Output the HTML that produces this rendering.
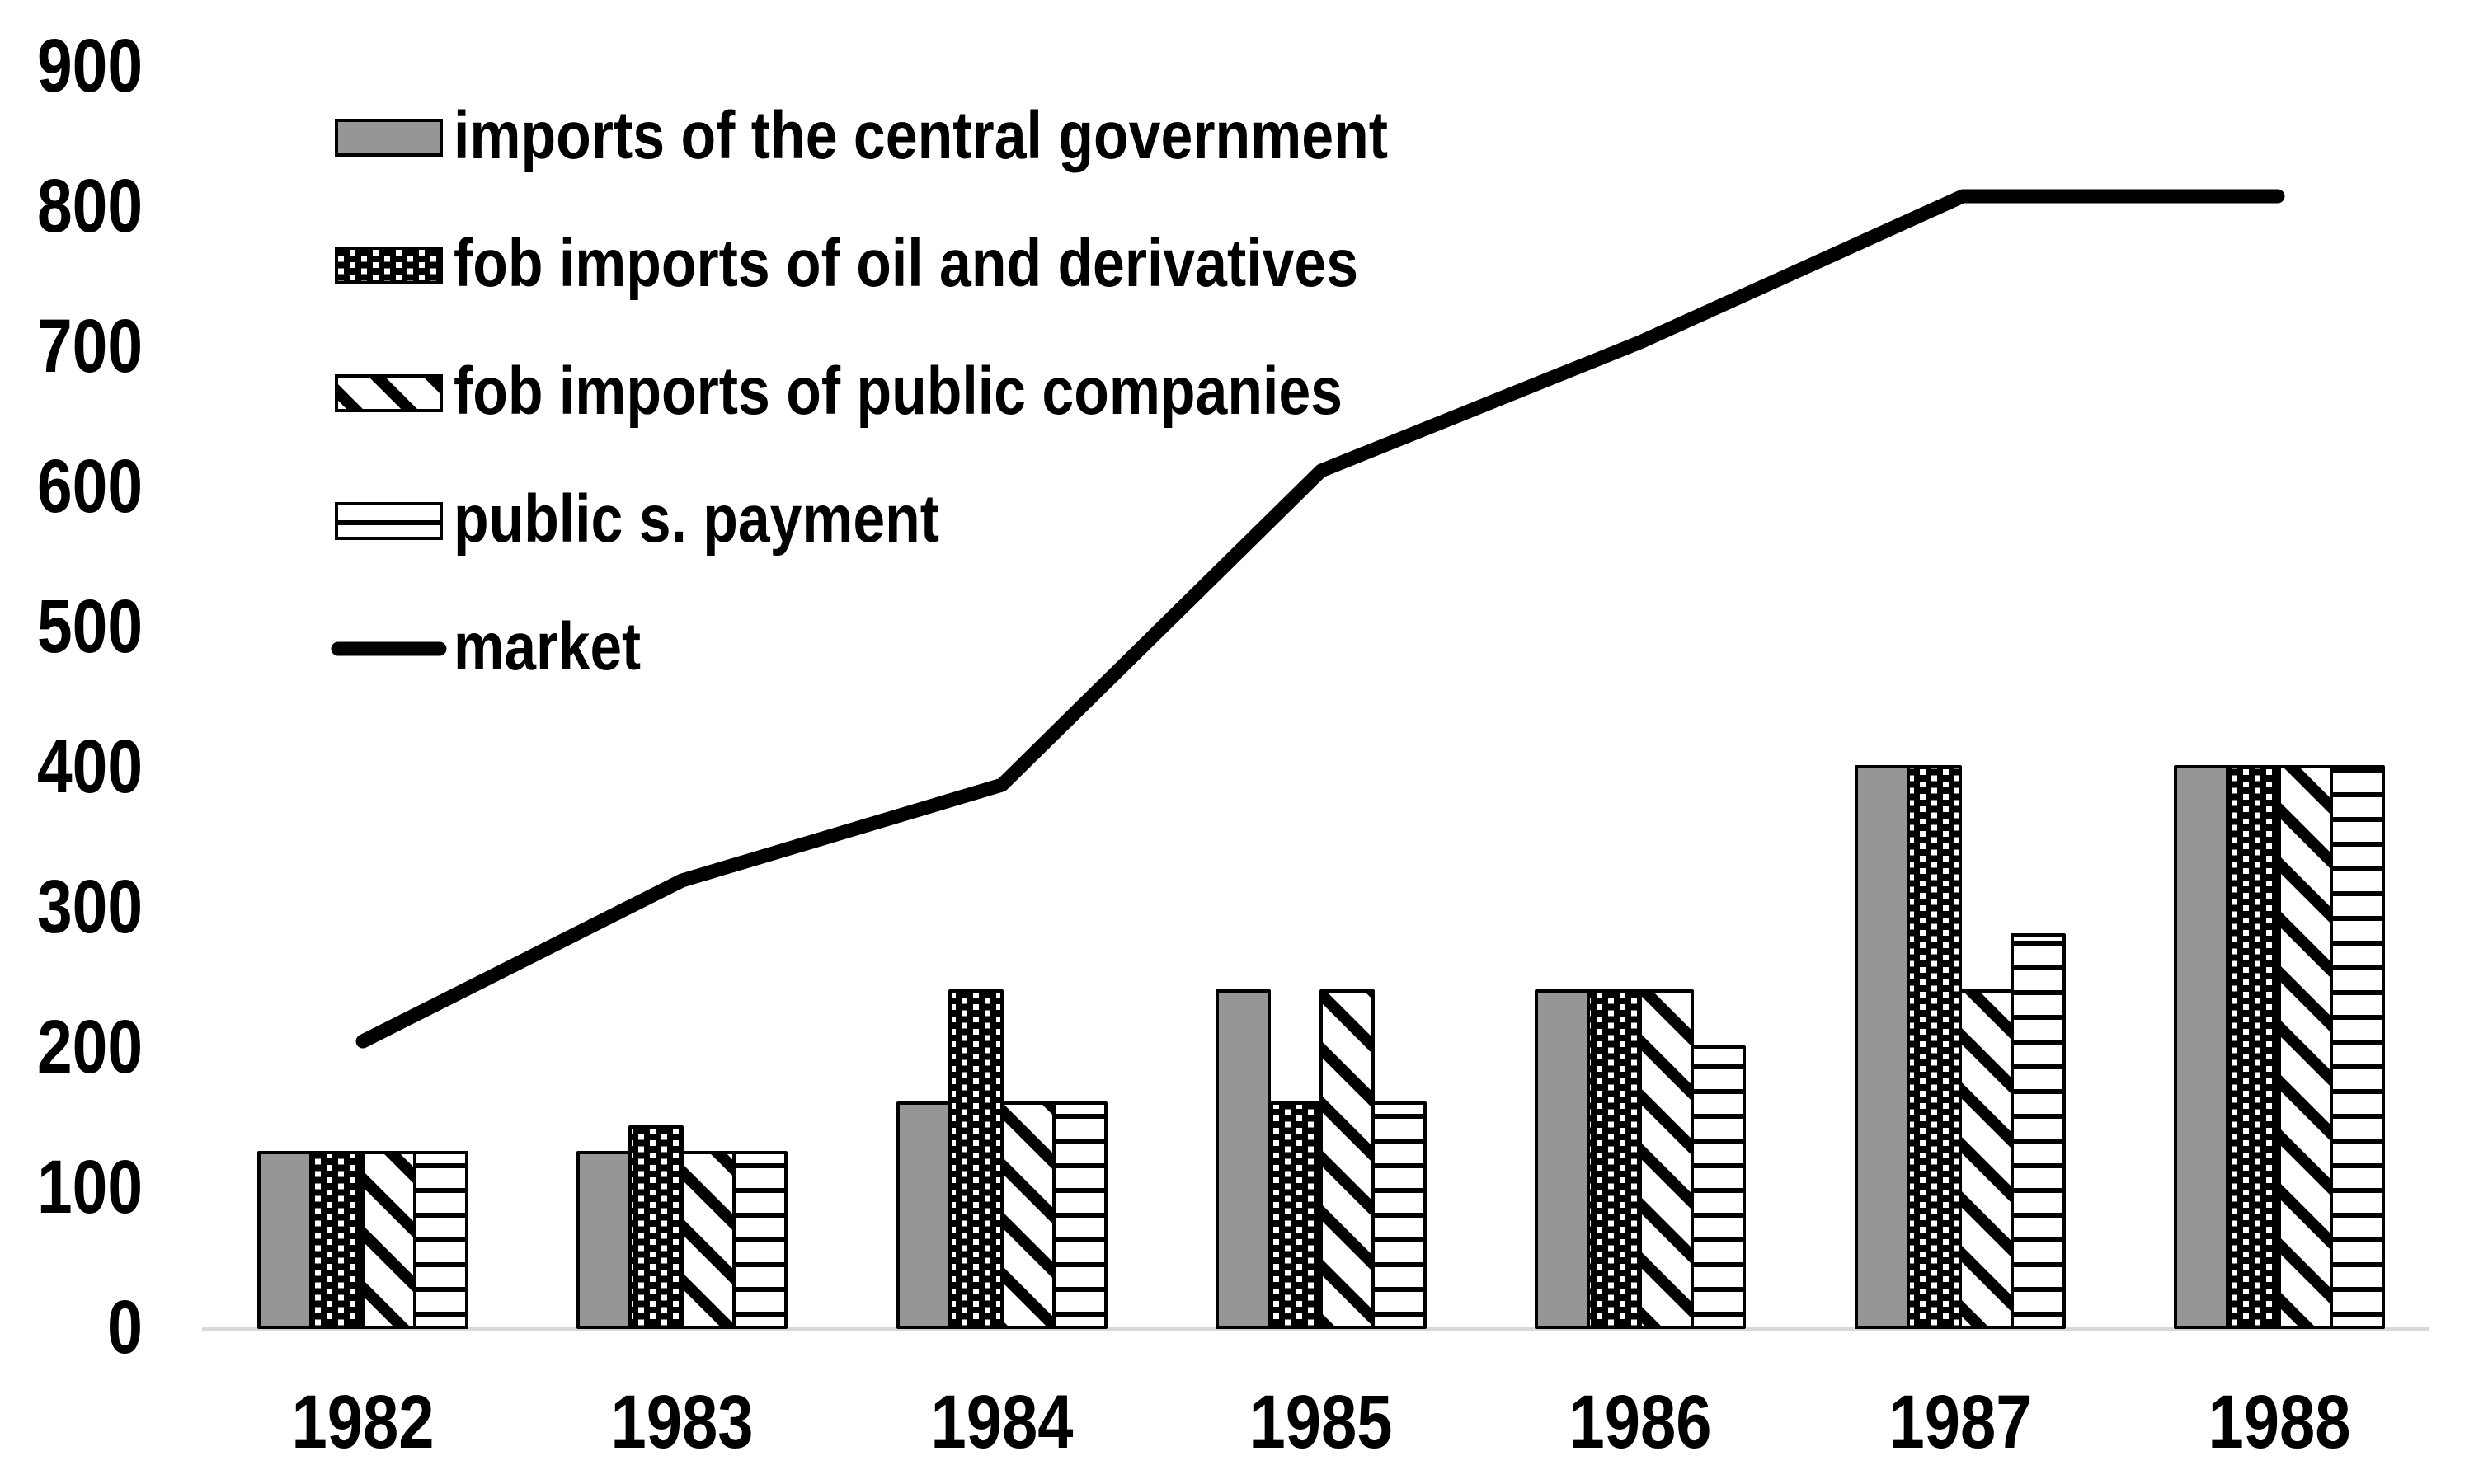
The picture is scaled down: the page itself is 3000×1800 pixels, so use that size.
<!DOCTYPE html>
<html><head><meta charset="utf-8"><style>
html,body{margin:0;padding:0;background:#fff;}
svg{display:block;}
text{font-family:"Liberation Sans",Arial,sans-serif;font-weight:bold;fill:#000;}
</style></head><body>
<svg width="3000" height="1800" viewBox="0 0 3000 1800" xmlns="http://www.w3.org/2000/svg">
<defs>
<pattern id="dots" patternUnits="userSpaceOnUse" width="28" height="15">
<rect width="28" height="15" fill="#000"/>
<rect x="4" y="3" width="7" height="7" fill="#fff"/>
<rect x="18" y="10.5" width="7" height="7" fill="#fff"/>
<rect x="18" y="-4.5" width="7" height="7" fill="#fff"/>
</pattern>
<pattern id="diag" patternUnits="userSpaceOnUse" width="66" height="66">
<rect width="66" height="66" fill="#fff"/>
<path d="M-10,-10 L76,76 M-10,56 L10,76 M56,-10 L76,10" stroke="#000" stroke-width="14"/>
</pattern>
<pattern id="horiz" patternUnits="userSpaceOnUse" width="30" height="30" y="1">
<rect width="30" height="30" fill="#fff"/>
<rect y="0" width="30" height="6" fill="#000"/>
</pattern>
</defs>

<rect x="245" y="1610" width="2700" height="5" fill="#d9d9d9"/>

<g font-size="92" text-anchor="end">
<text x="173" y="111" textLength="128" lengthAdjust="spacingAndGlyphs">900</text>
<text x="173" y="281" textLength="128" lengthAdjust="spacingAndGlyphs">800</text>
<text x="173" y="451" textLength="128" lengthAdjust="spacingAndGlyphs">700</text>
<text x="173" y="621" textLength="128" lengthAdjust="spacingAndGlyphs">600</text>
<text x="173" y="791" textLength="128" lengthAdjust="spacingAndGlyphs">500</text>
<text x="173" y="961" textLength="128" lengthAdjust="spacingAndGlyphs">400</text>
<text x="173" y="1131" textLength="128" lengthAdjust="spacingAndGlyphs">300</text>
<text x="173" y="1301" textLength="128" lengthAdjust="spacingAndGlyphs">200</text>
<text x="173" y="1471" textLength="128" lengthAdjust="spacingAndGlyphs">100</text>
<text x="173" y="1641" textLength="43" lengthAdjust="spacingAndGlyphs">0</text>
</g>

<g font-size="92" text-anchor="middle">
<text x="440" y="1756" textLength="173" lengthAdjust="spacingAndGlyphs">1982</text>
<text x="827" y="1756" textLength="173" lengthAdjust="spacingAndGlyphs">1983</text>
<text x="1215" y="1756" textLength="173" lengthAdjust="spacingAndGlyphs">1984</text>
<text x="1602" y="1756" textLength="173" lengthAdjust="spacingAndGlyphs">1985</text>
<text x="1989" y="1756" textLength="173" lengthAdjust="spacingAndGlyphs">1986</text>
<text x="2377" y="1756" textLength="173" lengthAdjust="spacingAndGlyphs">1987</text>
<text x="2764" y="1756" textLength="173" lengthAdjust="spacingAndGlyphs">1988</text>
</g>

<g stroke="#000" stroke-width="4" stroke-linejoin="round">
<!-- 1982 -->
<rect x="314" y="1398" width="63" height="212" fill="#969696"/>
<rect x="377" y="1398" width="63" height="212" fill="url(#dots)"/>
<rect x="440" y="1398" width="63" height="212" fill="url(#diag)"/>
<rect x="503" y="1398" width="63" height="212" fill="url(#horiz)"/>
<!-- 1983 -->
<rect x="701" y="1398" width="63" height="212" fill="#969696"/>
<rect x="764" y="1367" width="63" height="243" fill="url(#dots)"/>
<rect x="827" y="1398" width="63" height="212" fill="url(#diag)"/>
<rect x="890" y="1398" width="63" height="212" fill="url(#horiz)"/>
<!-- 1984 -->
<rect x="1089" y="1338" width="63" height="272" fill="#969696"/>
<rect x="1152" y="1202" width="63" height="408" fill="url(#dots)"/>
<rect x="1215" y="1338" width="63" height="272" fill="url(#diag)"/>
<rect x="1278" y="1338" width="63" height="272" fill="url(#horiz)"/>
<!-- 1985 -->
<rect x="1476" y="1202" width="63" height="408" fill="#969696"/>
<rect x="1539" y="1338" width="63" height="272" fill="url(#dots)"/>
<rect x="1602" y="1202" width="63" height="408" fill="url(#diag)"/>
<rect x="1665" y="1338" width="63" height="272" fill="url(#horiz)"/>
<!-- 1986 -->
<rect x="1863" y="1202" width="63" height="408" fill="#969696"/>
<rect x="1926" y="1202" width="63" height="408" fill="url(#dots)"/>
<rect x="1989" y="1202" width="63" height="408" fill="url(#diag)"/>
<rect x="2052" y="1270" width="63" height="340" fill="url(#horiz)"/>
<!-- 1987 -->
<rect x="2251" y="930" width="63" height="680" fill="#969696"/>
<rect x="2314" y="930" width="63" height="680" fill="url(#dots)"/>
<rect x="2377" y="1202" width="63" height="408" fill="url(#diag)"/>
<rect x="2440" y="1134" width="63" height="476" fill="url(#horiz)"/>
<!-- 1988 -->
<rect x="2638" y="930" width="63" height="680" fill="#969696"/>
<rect x="2701" y="930" width="63" height="680" fill="url(#dots)"/>
<rect x="2764" y="930" width="63" height="680" fill="url(#diag)"/>
<rect x="2827" y="930" width="63" height="680" fill="url(#horiz)"/>
</g>

<polyline points="440,1263 827,1068 1215,952 1602,571 1989,415 2380,238 2762,238" fill="none" stroke="#000" stroke-width="17" stroke-linejoin="round" stroke-linecap="round"/>

<g stroke="#000" stroke-width="4">
<rect x="408" y="146" width="127" height="42" fill="#969696"/>
<rect x="408" y="301" width="127" height="42" fill="url(#dots)"/>
<rect x="408" y="456" width="127" height="42" fill="url(#diag)"/>
<rect x="408" y="611" width="127" height="42" fill="url(#horiz)"/>
</g>
<line x1="410" y1="787" x2="533" y2="787" stroke="#000" stroke-width="17" stroke-linecap="round"/>
<g font-size="82">
<text x="550" y="192" textLength="1133" lengthAdjust="spacingAndGlyphs">imports of the central government</text>
<text x="550" y="347" textLength="1097" lengthAdjust="spacingAndGlyphs">fob imports of oil and derivatives</text>
<text x="550" y="502" textLength="1078" lengthAdjust="spacingAndGlyphs">fob imports of public companies</text>
<text x="550" y="657" textLength="589" lengthAdjust="spacingAndGlyphs">public s. payment</text>
<text x="550" y="812" textLength="227" lengthAdjust="spacingAndGlyphs">market</text>
</g>
</svg>
</body></html>
